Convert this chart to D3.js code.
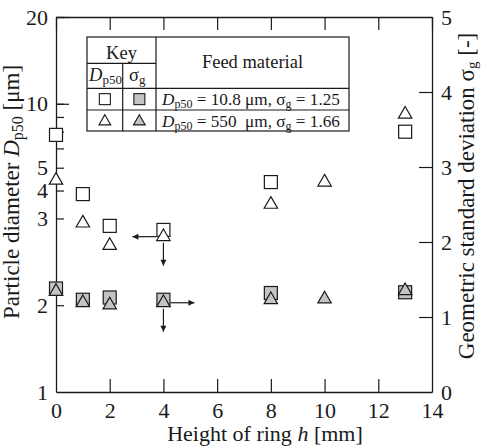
<!DOCTYPE html>
<html>
<head>
<meta charset="utf-8">
<script src="https://cdn.jsdelivr.net/npm/d3@7"></script>
<style>
  html, body { margin: 0; padding: 0; background: #fff; }
  svg { display: block; font-family: "Liberation Serif", "Times New Roman", serif; }
</style>
</head>
<body>
<svg id="chart" width="482" height="448"></svg>
<script>
// ---------------- data ----------------
const xTicks = [0, 2, 4, 6, 8, 10, 12, 14];
const leftTickValues = [2, 4, 5, 6, 7, 8, 9, 10, 20];
const leftMajorTicks = [10, 20];
const leftLabelTexts = ["1", "2", "3", "4", "5", "10", "20"];
const leftLabelAt = [1, 2, 4, 5, 6, 10, 20];
const rightTicks = [0, 1, 2, 3, 4, 5];

// fine feed material (Dp50 = 10.8 um, sg = 1.25): squares
const fineH = [0, 1, 2, 4, 8, 13];
const fineDp50 = [7.8, 4.86, 3.77, 3.65, 5.35, 8.0];
const fineSigma = [1.38, 1.23, 1.26, 1.23, 1.32, 1.33];
// coarse feed material (Dp50 = 550 um, sg = 1.66): triangles
const coarseH = [0, 1, 2, 4, 8, 10, 13];
const coarseDp50 = [5.49, 3.90, 3.26, 3.50, 4.53, 5.41, 9.31];
const coarseSigma = [1.36, 1.21, 1.18, 1.21, 1.25, 1.26, 1.37];

// ---------------- layout ----------------
const L = 56, R = 432, T = 17, B = 392;
const svg = d3.select("#chart");
const ink = "#1a1a1a";
const grayFill = "#c4c4c4";

const x = d3.scaleLinear().domain([0, 14]).range([L, R]);
const yL = d3.scaleLog().domain([1, 20]).range([B, T]);
const yR = d3.scaleLinear().domain([0, 5]).range([B, T]);

function styleAxis(g) {
  g.selectAll("path.domain").attr("stroke", ink).attr("stroke-width", 1.3);
  g.selectAll(".tick line").attr("stroke", ink).attr("stroke-width", 1.2);
  g.selectAll(".tick text").attr("fill", ink)
    .style("font-family", '"Liberation Serif", serif').style("font-size", "22px");
  g.attr("font-family", null).attr("font-size", null);
}

// bottom axis
const gB = svg.append("g").attr("transform", `translate(0,${B})`)
  .call(d3.axisBottom(x).tickValues(xTicks).tickSizeInner(-13).tickSizeOuter(0).tickPadding(10));
styleAxis(gB);
gB.selectAll(".tick").filter(d => d === 0 || d === 14).select("line").remove();

// top axis (ticks only)
const gT = svg.append("g").attr("transform", `translate(0,${T})`)
  .call(d3.axisTop(x).tickValues(xTicks).tickSizeInner(-13).tickSizeOuter(0).tickFormat(""));
styleAxis(gT);

// left axis: minor ticks + domain
const gL = svg.append("g").attr("transform", `translate(${L},0)`)
  .call(d3.axisLeft(yL).tickValues(leftTickValues).tickSizeInner(-8).tickSizeOuter(0).tickFormat(""));
styleAxis(gL);
const gLM = svg.append("g").attr("transform", `translate(${L},0)`)
  .call(d3.axisLeft(yL).tickValues(leftMajorTicks).tickSizeInner(-13).tickSizeOuter(0).tickFormat(""));
styleAxis(gLM);
gLM.select("path.domain").remove();
const gLL = svg.append("g").attr("transform", `translate(${L},0)`)
  .call(d3.axisLeft(yL).tickValues(leftLabelAt).tickSize(0).tickPadding(8)
    .tickFormat((d, i) => leftLabelTexts[i]));
styleAxis(gLL);
gLL.select("path.domain").remove();

// right axis
const gR = svg.append("g").attr("transform", `translate(${R},0)`)
  .call(d3.axisRight(yR).tickValues(rightTicks).tickSizeInner(-13).tickSizeOuter(0).tickPadding(9)
    .tickFormat(d3.format("d")));
styleAxis(gR);
gR.selectAll(".tick").filter(d => d === 0 || d === 5).select("line").remove();

// ---------------- axis titles ----------------
const tB = svg.append("text").attr("x", 265).attr("y", 441).attr("text-anchor", "middle")
  .attr("font-size", 22).attr("fill", ink);
tB.append("tspan").text("Height of ring ");
tB.append("tspan").attr("font-style", "italic").text("h");
tB.append("tspan").text(" [mm]");

const tL = svg.append("text").attr("transform", "translate(19,192) rotate(-90)")
  .attr("text-anchor", "middle").attr("font-size", 23).attr("fill", ink);
tL.append("tspan").text("Particle diameter ");
tL.append("tspan").attr("font-style", "italic").text("D");
tL.append("tspan").attr("font-size", 16).attr("dy", 4).text("p50");
tL.append("tspan").attr("dy", -4).text(" [μm]");

const tR = svg.append("text").attr("transform", "translate(474,196) rotate(-90)")
  .attr("text-anchor", "middle").attr("font-size", 23).attr("fill", ink);
tR.append("tspan").text("Geometric standard deviation σ");
tR.append("tspan").attr("font-size", 15).attr("dy", 3).text("g");
tR.append("tspan").attr("dy", -3).text("  [-]");

// ---------------- markers ----------------
const sq = 13;
const triPath = d3.symbol().type(d3.symbolTriangle).size(78);
function drawSquares(hs, vals, scale, fill) {
  svg.append("g").selectAll("rect").data(hs).join("rect")
    .attr("x", (d, i) => x(d) - sq / 2).attr("y", (d, i) => scale(vals[i]) - sq / 2)
    .attr("width", sq).attr("height", sq)
    .attr("fill", fill).attr("stroke", ink).attr("stroke-width", 1.2);
}
function drawTriangles(hs, vals, scale, fill) {
  svg.append("g").selectAll("path").data(hs).join("path")
    .attr("d", triPath)
    .attr("transform", (d, i) => `translate(${x(d)},${scale(vals[i]) + 1.5})`)
    .attr("fill", fill).attr("stroke", ink).attr("stroke-width", 1.2);
}
drawSquares(fineH, fineDp50, yL, "#fff");
drawTriangles(coarseH, coarseDp50, yL, "#fff");
drawSquares(fineH, fineSigma, yR, grayFill);
drawTriangles(coarseH, coarseSigma, yR, grayFill);

// ---------------- arrows (at h = 4) ----------------
const defs = svg.append("defs");
defs.append("marker").attr("id", "ah").attr("viewBox", "0 0 10 10").attr("refX", 10).attr("refY", 5)
  .attr("markerWidth", 9).attr("markerHeight", 6).attr("markerUnits", "userSpaceOnUse")
  .attr("orient", "auto")
  .append("path").attr("d", "M0,0 L10,5 L0,10 Z").attr("fill", ink);
function arrow(x1, y1, x2, y2) {
  svg.append("line").attr("x1", x1).attr("y1", y1).attr("x2", x2).attr("y2", y2)
    .attr("stroke", ink).attr("stroke-width", 1.2).attr("marker-end", "url(#ah)");
}
const ia = coarseH.indexOf(4);
const ax = x(4);
const ayW = yL(coarseDp50[ia]) + 1.5;
arrow(ax - 7, ayW, ax - 31, ayW);
arrow(ax, ayW + 6, ax, ayW + 29);
const ayG = yR(coarseSigma[ia]) + 1.5;
arrow(ax + 7, ayG, ax + 31, ayG);
arrow(ax, ayG + 6, ax, ayG + 29);

// ---------------- key table ----------------
const kL = 87, kC1 = 122.7, kC2 = 156, kR = 349;
const kT = 37, kKey = 63.3, kH = 88.3, kR1 = 110, kB = 131;
const kg = svg.append("g");
kg.append("rect").attr("x", kL).attr("y", kT).attr("width", kR - kL).attr("height", kB - kT)
  .attr("fill", "#fff").attr("stroke", ink).attr("stroke-width", 1.2);
const kLines = [
  [kL, kKey, kC2, kKey], [kL, kH, kR, kH], [kL, kR1, kR, kR1],
  [kC1, kKey, kC1, kB], [kC2, kT, kC2, kB]
];
kg.selectAll("line").data(kLines).join("line")
  .attr("x1", d => d[0]).attr("y1", d => d[1]).attr("x2", d => d[2]).attr("y2", d => d[3])
  .attr("stroke", ink).attr("stroke-width", 1.2);
const kfs = 18.5, ksub = 13, krow = 17.2, krsub = 12;
kg.append("text").attr("x", (kL + kC2) / 2).attr("y", 59).attr("text-anchor", "middle")
  .attr("font-size", kfs).attr("fill", ink).text("Key");
kg.append("text").attr("x", (kC2 + kR) / 2).attr("y", 68).attr("text-anchor", "middle")
  .attr("font-size", kfs).attr("fill", ink).text("Feed material");
const hd = kg.append("text").attr("x", 89).attr("y", 81).attr("font-size", kfs).attr("fill", ink);
hd.append("tspan").attr("font-style", "italic").text("D");
hd.append("tspan").attr("font-size", ksub).attr("dy", 3).text("p50");
const hs = kg.append("text").attr("x", 129).attr("y", 81).attr("font-size", kfs).attr("fill", ink);
hs.append("tspan").text("σ");
hs.append("tspan").attr("font-size", ksub).attr("dy", 3).text("g");

const keyRows = [
  { y: (kH + kR1) / 2, shape: "square", text: ["10.8 μm", "1.25"] },
  { y: (kR1 + kB) / 2, shape: "triangle", text: ["550  μm", "1.66"] }
];
keyRows.forEach(r => {
  [[(kL + kC1) / 2, "#fff"], [(kC1 + kC2) / 2, grayFill]].forEach(([cx, f]) => {
    if (r.shape === "square") {
      kg.append("rect").attr("x", cx - 5.5).attr("y", r.y - 5.5).attr("width", 11).attr("height", 11)
        .attr("fill", f).attr("stroke", ink).attr("stroke-width", 1.1);
    } else {
      kg.append("path").attr("d", d3.symbol().type(d3.symbolTriangle).size(60))
        .attr("transform", `translate(${cx},${r.y + 1})`)
        .attr("fill", f).attr("stroke", ink).attr("stroke-width", 1.1);
    }
  });
  const t = kg.append("text").attr("x", 162).attr("y", r.y + 6).attr("font-size", krow).attr("fill", ink)
    .attr("xml:space", "preserve").style("white-space", "pre");
  t.append("tspan").attr("font-style", "italic").text("D");
  t.append("tspan").attr("font-size", krsub).attr("dy", 3).text("p50");
  t.append("tspan").attr("dy", -3).text(" = " + r.text[0] + ", σ");
  t.append("tspan").attr("font-size", krsub).attr("dy", 3).text("g");
  t.append("tspan").attr("dy", -3).text(" = " + r.text[1]);
});
</script>
</body>
</html>
